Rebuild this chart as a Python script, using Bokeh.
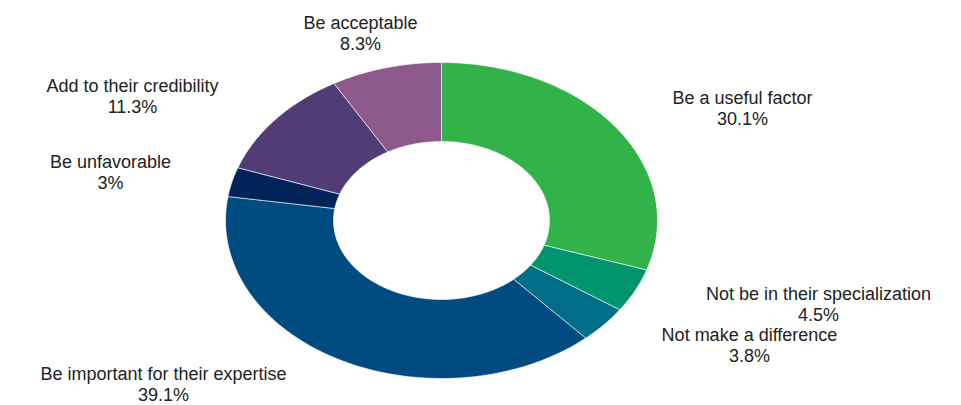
import numpy as np
from bokeh.plotting import figure
from bokeh.models import ColumnDataSource, Range1d
from bokeh.core.properties import value
from bokeh.embed import file_html
from bokeh.resources import INLINE

categories = ["Be a useful factor", "Not be in their specialization", "Not make a difference",
              "Be important for their expertise", "Be unfavorable", "Add to their credibility",
              "Be acceptable"]
values = [30.1, 4.5, 3.8, 39.1, 3, 11.3, 8.3]
colors = ["#31b349", "#00956f", "#006e87", "#004b80", "#002359", "#523c76", "#8d588c"]

# layout (pixel coordinates)
W, H = 961, 405
cx, cy = 441, 220
rx_out, ry_out = 216, 158
inner = 0.5
label_x = [742, 818, 749, 163, 110, 132, 360]
label_y = [97.5, 293.5, 334.5, 373, 161.5, 85.5, 22.5]
line_gap = 21

p = figure(width=W, height=H, output_backend="svg", toolbar_location=None,
           x_range=Range1d(0, W), y_range=Range1d(H, 0), min_border=0)
p.axis.visible = False
p.grid.visible = False
p.outline_line_color = None
p.background_fill_color = "white"

total = sum(values)
xs, ys = [], []
start = 0.0
for v in values:
    a0 = start / total * 2 * np.pi
    a1 = (start + v) / total * 2 * np.pi
    t = np.linspace(a0, a1, 80)
    ox = cx + rx_out * np.sin(t)
    oy = cy - ry_out * np.cos(t)
    ix = cx + rx_out * inner * np.sin(t[::-1])
    iy = cy - ry_out * inner * np.cos(t[::-1])
    xs.append(list(np.concatenate([ox, ix])))
    ys.append(list(np.concatenate([oy, iy])))
    start += v

p.patches(xs="xs", ys="ys", fill_color="color", line_color="white", line_width=0.6,
          source=ColumnDataSource(dict(xs=xs, ys=ys, color=colors)))

pct = [f"{v:g}%" for v in values]
src1 = ColumnDataSource(dict(x=label_x, y=label_y, t=categories))
src2 = ColumnDataSource(dict(x=label_x, y=[y + line_gap for y in label_y], t=pct))
for s in (src1, src2):
    p.text(x="x", y="y", text="t", source=s, text_align="center", text_baseline="middle",
           text_font=value("Liberation Sans"), text_font_size="18px", text_color="#222222")

open("out.html", "w").write(file_html(p, INLINE))
